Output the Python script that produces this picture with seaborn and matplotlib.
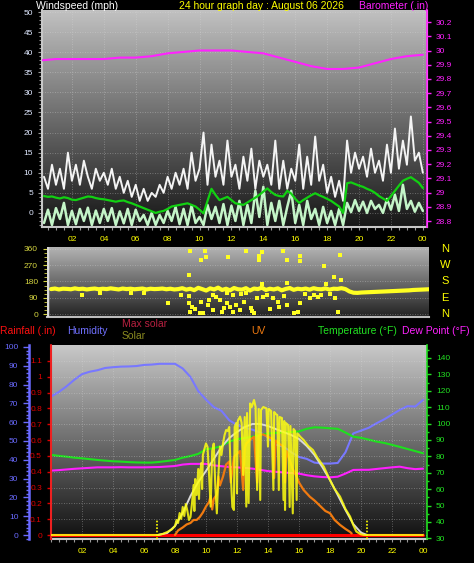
# 24 hour weather graph (windspeed / direction / solar-temp panels)
import numpy as np
import pandas as pd
import matplotlib
matplotlib.use("Agg")
import matplotlib.pyplot as plt
import seaborn as sns
from matplotlib.colors import LinearSegmentedColormap
from matplotlib.ticker import MultipleLocator, FixedLocator, FuncFormatter
from matplotlib.transforms import blended_transform_factory

# ---------------- data ----------------
hour_ticks = list(range(2, 25, 2))
hour_labels = ['02', '04', '06', '08', '10', '12', '14', '16', '18', '20', '22', '00']

# top panel, 15 minute steps 00:15 .. 24:00
gust_mph = [9, 6, 12, 7,  11, 6, 15, 8,  12, 7, 13, 9,  6, 11, 8, 10,
            7, 11, 6, 9,  5, 8, 4, 7,  3, 6, 3, 5,  4, 7, 5, 9,
            6, 10, 7, 11,  6, 15, 8, 11,  20, 7, 17, 9,  13, 7, 18, 9,
            12, 6, 14, 8,  16, 6, 13, 9,  12, 7, 18, 6,  13, 6, 11, 8,
            17, 6, 14, 7,  19, 8, 12, 5,  9, 4, 8, 3,  18, 10, 15, 11,
            14, 9, 16, 10,  13, 8, 17, 10,  21, 11, 18, 12,  24, 13, 15, 10]
avg_mph = [4.2, 4.0, 4.1, 3.8,  3.6, 3.9, 3.7, 3.3,  3.2, 3.5, 3.8, 4.1,  4.0, 3.7, 3.5, 3.4,
           3.2, 3.0, 2.8, 3.0,  3.1, 2.7, 2.4, 2.0,  1.6, 1.2, 0.8, 0.4,  0.0, 0.3, 0.5, 1.0,
           1.6, 1.8, 2.0, 2.2,  2.4, 2.0, 1.6, 0.8,  -0.1, 3.0, 6.0, 4.5,  3.2, 3.6, 4.0, 3.2,
           2.4, 2.2, 2.0, 2.6,  3.2, 3.8, 4.5, 5.3,  6.1, 5.2, 4.5, 4.2,  4.1, 5.5, 4.8, 3.5,
           2.5, 3.2, 3.8, 4.4,  4.9, 4.4, 4.0, 3.5,  3.0, 2.3, 1.6, 0.0,  7.4, 7.6, 7.2, 6.8,
           6.5, 6.0, 5.6, 5.0,  4.2, 3.6, 3.0, 4.2,  5.5, 6.8, 8.0, 8.5,  8.9, 8.2, 7.5, 6.2]
speed_mph = [-2.5, 0.8, -3.0, 1.2,  -1.5, 2.5, -3.0, 0.5,  -2.8, 1.0, -2.0, 1.3,  -3.0, 0.6, -2.5, 1.0,
             -2.0, 1.2, -3.0, 0.4,  -2.6, 1.0, -3.0, 0.8,  -2.0, -0.5, -3.0, 0.0,  -3.0, -0.5, -2.5, 0.5,
             -2.0, 1.5, -2.8, 1.0,  -3.0, 1.8, -2.5, -1.0,  -3.0, 2.0, -1.5, 1.5,  -2.5, 2.2, -3.0, 1.8,
             -2.0, 3.0, -3.0, 2.0,  -2.5, 5.5, -1.0, 6.5,  -3.0, 2.5, -2.0, 3.0,  -3.0, 1.5, 5.5, -2.5,
             2.0, -3.0, 3.0, -1.5,  1.0, -3.0, 1.5, -2.5,  0.5, -3.0, 1.0, -3.0,  2.5, 0.2, 3.2, 0.5,
             2.8, 0.0, 3.0, 1.0,  2.0, 0.0, 3.5, 0.8,  4.5, 0.5, 7.0, 1.0,  3.0, 0.3, 2.5, 0.5]
baro_hours = list(range(25))
baro_in = [29.93, 29.94, 29.94, 29.94, 29.94, 29.95, 29.95, 29.96, 29.98, 29.99,
           30.00, 30.00, 30.00, 29.99, 29.98, 29.95, 29.92, 29.89, 29.87, 29.87,
           29.88, 29.91, 29.94, 29.96, 29.97]

# middle panel, wind direction (15 minute steps) + scattered readings
wdir_deg = [138, 141, 136, 140,  139, 137, 142, 138,  140, 136, 139, 141,  137, 140, 138, 142,
            139, 136, 141, 138,  140, 137, 139, 141,  136, 140, 138, 139,  141, 137, 140, 136,
            138, 143, 135, 140,  132, 145, 138, 130,  142, 136, 146, 133,  140, 131, 144, 137,
            135, 143, 130, 141,  138, 146, 133, 140,  136, 142, 131, 139,  144, 134, 140, 137,
            141, 135, 143, 138,  137, 142, 135, 140,  139, 143, 138, 125,  118, 117, 119, 120,
            121, 122, 123, 124,  125, 126, 127, 128,  129, 130, 131, 133,  134, 135, 136, 137]
wdir_out_h = [9.0, 9.9, 10.0, 9.7, 8.9, 11.4, 12.5, 13.3, 13.5, 13.3, 14.8, 15.1, 15.9, 15.9,
              18.4, 17.4, 18.0, 18.5, 17.5, 15.1, 13.5, 7.6, 8.9, 9.1, 9.0, 9.6, 9.8, 9.7,
              10.2, 10.9, 10.4, 11.0, 11.3, 11.5, 11.7, 12.1, 12.4, 12.8, 13.0, 12.5, 11.7,
              11.3, 10.4, 13.2, 13.8, 14.2, 14.5, 14.6, 15.1, 15.5, 15.8, 15.9, 16.5, 16.8,
              18.3, 18.1, 17.2, 8.4, 8.9, 2.2, 5.3, 3.3, 6.1,
              9.3, 10.6, 11.9, 12.2, 12.9, 13.6, 14.0, 14.9, 16.2, 17.0, 17.8, 10.1, 11.1]
wdir_out_deg = [350, 348, 318, 299, 218, 318, 350, 321, 345, 299, 350, 299, 321, 295,
                329, 268, 207, 188, 166, 173, 164, 63, 59, 41, 12, 7, 3, 68,
                77, 77, 22, 12, 59, 41, 12, 22, 68, 31, 7, 114, 105,
                114, 105, 86, 105, 86, 68, 41, 50, 7, 12, 59, 86, 105,
                12, 86, 105, 105, 99, 105, 114, 118, 118,
                30, 95, 48, 110, 18, 92, 25, 100, 112, 96, 108, 52, 36]

# bottom panel, 30 minute steps 00:00 .. 24:00
humidity_pct = [73.6, 76, 79, 82.5, 85.5, 86.8, 87.6, 88.8, 89.2, 89.5, 89.6, 89.8, 90.4,
                90.6, 91, 91, 91, 88.5, 84, 76.5, 72, 68, 66, 61, 58.5, 57, 56, 54.5, 52,
                48, 47, 44, 41.5, 40.5, 38.5, 38, 38, 38.3, 44, 54, 55.5, 57, 59.4, 61.5,
                64, 66.5, 68.5, 68.3, 71.8]
temp_f = [80.9, 80.3, 79.8, 79.2, 78.8, 78.3, 77.8, 77.4, 77.0, 76.8, 76.5, 76.3, 76.2,
          76.2, 76.6, 77.2, 77.8, 79.2, 80.2, 81.5, 84.3, 85.0, 86.3, 89.0, 90.5, 91.2,
          92.0, 93.0, 94.0, 94.3, 94.6, 94.8, 95.2, 96.8, 97.7, 97.5, 97.1, 96.8, 94.5,
          92.0, 91.3, 90.2, 89.0, 88.2, 87.0, 85.8, 84.5, 83.2, 81.9]
dew_f = [71.3, 71.6, 72.0, 72.4, 72.7, 73.0, 73.3, 73.3, 73.3, 73.4, 73.3, 73.3, 73.3,
         73.4, 73.5, 73.8, 74.1, 75.0, 75.4, 75.4, 75.4, 74.5, 74.0, 73.5, 73.3, 72.9,
         72.5, 71.8, 71.0, 70.6, 70.2, 69.8, 69.5, 68.5, 67.8, 67.4, 67.2, 67.6, 69.5,
         71.7, 71.8, 71.8, 72.3, 72.8, 73.3, 73.7, 72.8, 72.2, 72.5]
maxsolar_h = [6.9, 7.5, 8, 8.5, 9, 9.5, 10, 10.5, 11, 11.5, 12, 12.5, 13, 13.5, 14, 14.5,
              15, 15.5, 16, 16.5, 17, 17.5, 18, 18.5, 19, 19.5, 20, 20.4]
maxsolar_w = [0, 10, 45, 110, 195, 265, 320, 380, 440, 485, 515, 540, 555, 555, 545, 530,
              515, 500, 480, 445, 400, 340, 275, 200, 125, 55, 12, 0]
solar_pts = [(0.0, 0), (6.9, 0), (7.2, 5), (7.5, 15), (7.8, 28), (8.0, 45), (8.1, 75), (8.2, 60),
             (8.3, 110), (8.4, 80), (8.5, 140), (8.6, 95), (8.7, 155), (8.8, 120), (8.9, 75),
             (9.0, 90), (9.1, 160), (9.2, 250), (9.25, 120), (9.3, 280), (9.4, 200), (9.5, 330),
             (9.55, 180), (9.6, 300), (9.7, 360), (9.75, 230), (9.8, 400), (9.9, 430), (10.0, 458),
             (10.1, 440), (10.2, 300), (10.3, 142), (10.4, 420), (10.5, 457), (10.6, 250),
             (10.7, 108), (10.8, 300), (10.9, 442), (11.0, 400), (11.1, 460), (11.2, 500),
             (11.3, 525), (11.4, 520), (11.5, 540), (11.6, 300), (11.7, 140), (11.8, 125),
             (11.85, 540), (11.95, 560), (12.0, 208), (12.05, 570), (12.2, 592), (12.3, 560),
             (12.4, 300), (12.5, 590), (12.6, 142), (12.65, 610), (12.75, 160), (12.85, 658),
             (12.95, 640), (13.1, 675), (13.2, 640), (13.3, 225), (13.4, 630), (13.5, 175),
             (13.55, 625), (13.7, 640), (13.9, 633), (14.0, 442), (14.05, 630), (14.2, 620),
             (14.35, 225), (14.4, 615), (14.5, 605), (14.6, 600), (14.7, 225), (14.75, 590),
             (14.9, 585), (15.0, 175), (15.05, 570), (15.1, 125), (15.15, 560), (15.3, 550),
             (15.4, 140), (15.45, 545), (15.6, 108), (15.65, 530), (15.75, 520), (15.85, 175),
             (15.9, 508), (16.1, 490), (16.3, 475), (16.6, 445), (16.9, 425), (17.2, 385),
             (17.6, 342), (18.0, 275), (18.3, 230), (18.65, 192), (19.0, 130), (19.3, 92),
             (19.5, 50), (19.7, 17), (20.0, 3), (20.2, 0), (24.0, 0)]
uv_pts = [(8.0, 0.0), (8.2, 0.3), (8.5, 0.5), (8.75, 0.7), (9.0, 0.8), (9.2, 1.0), (9.4, 1.0),
          (9.6, 1.2), (9.8, 1.5), (10.0, 1.9), (10.2, 2.2), (10.3, 2.6), (10.4, 1.7), (10.5, 2.4),
          (10.7, 2.7), (10.8, 3.9), (10.9, 3.3), (11.1, 3.9), (11.3, 4.7), (11.5, 4.9), (11.6, 3.5),
          (11.8, 5.2), (12.0, 5.4), (12.2, 5.6), (12.4, 3.0), (12.5, 5.8), (12.6, 6.1), (12.9, 6.4),
          (13.1, 6.55), (13.3, 3.5), (13.4, 6.6), (13.5, 6.7), (13.7, 6.7), (13.9, 6.6), (14.1, 6.5),
          (14.3, 6.4), (14.4, 3.8), (14.5, 6.3), (14.7, 6.1), (15.0, 5.9), (15.1, 3.5), (15.2, 5.6),
          (15.4, 5.0), (15.6, 4.4), (15.85, 3.9), (16.0, 3.5), (16.3, 3.0), (16.7, 2.55),
          (17.0, 2.3), (17.4, 1.9), (17.7, 1.6), (18.0, 1.45), (18.3, 1.0), (18.65, 0.67),
          (19.0, 0.4), (19.3, 0.2), (19.4, 0.1)]
rain_h = [0, 24]
rain_in = [0.0, 0.0]
sun_hours = [6.86, 20.4]   # sunrise / sunset markers

# ---------------- helpers ----------------
W, H = 474, 563


def rect(l, t, r, b):
    '''axes rectangle from pixel edges (origin top left)'''
    return [l / W, 1 - b / H, (r - l) / W, (b - t) / H]


def gradient_bg(ax, top, bottom):
    '''vertical grey gradient behind the data'''
    cmap = LinearSegmentedColormap.from_list('bg', [bottom, top])
    grad = np.linspace(0, 1, 256).reshape(-1, 1)
    ax.imshow(grad, cmap=cmap, aspect='auto', extent=[0, 1, 0, 1],
              transform=ax.transAxes, origin='lower', zorder=0)


def hour_axis(ax, color='#ffff00'):
    ax.xaxis.set_major_locator(FixedLocator(hour_ticks))
    ax.set_xticklabels(hour_labels, color=color, fontsize=6)
    ax.xaxis.set_minor_locator(MultipleLocator(0.5))
    ax.tick_params(axis='x', which='both', colors='#9a9a9a', labelcolor=color,
                   length=2.5, width=0.8, pad=4)


def num_fmt(v, pos):
    return f"{round(v, 2):g}"


sns.set_style("dark")
plt.rcParams['font.family'] = ['Liberation Sans', 'DejaVu Sans']
plt.rcParams['axes.unicode_minus'] = False
plt.rcParams.update({'xtick.bottom': True, 'ytick.left': True})

fig = plt.figure(figsize=(W / 100, H / 100), dpi=100, facecolor='black')

t15 = np.arange(1, 97) * 0.25
t30 = np.arange(0, 49) * 0.5
grid_kw = dict(color='#dcdcdc', linestyle=(0, (1, 2)), linewidth=0.6, alpha=0.45)

# ---------------- top panel: windspeed + barometer ----------------
ax1 = fig.add_axes(rect(42, 10, 427, 227))
gradient_bg(ax1, '#c2c2c2', '#161616')
sns.lineplot(x=t15, y=speed_mph, ax=ax1, color='#c4f5c8', lw=1.8, zorder=3)
sns.lineplot(x=t15, y=gust_mph, ax=ax1, color='#f4f4f4', lw=1.4, zorder=4)
sns.lineplot(x=t15, y=avg_mph, ax=ax1, color='#12d012', lw=1.6, zorder=5)
ax1.set_xlim(0.125, 24.26)
ax1.set_ylim(-3.5, 50.5)
ax1.yaxis.set_major_locator(MultipleLocator(5))
ax1.yaxis.set_minor_locator(MultipleLocator(1))
ax1.tick_params(axis='y', which='both', colors='#9a9a9a', labelcolor='#dfe8ff',
                labelsize=6, length=3, width=0.8)
ax1.tick_params(axis='y', which='minor', length=2)
hour_axis(ax1)
ax1.grid(True, **grid_kw)
ax1.set_xlabel('')
ax1.set_ylabel('')
ax1.spines['top'].set_visible(False)
ax1.spines['left'].set_color('#c8c8c8')
ax1.spines['bottom'].set_color('#c8c8c8')
ax1.spines['left'].set_linewidth(1.5)
ax1.spines['bottom'].set_linewidth(1.5)

ax1b = ax1.twinx()
sns.lineplot(x=baro_hours, y=baro_in, ax=ax1b, color='#ff22ff', lw=1.5)
ax1b.set_ylim(28.758, 30.285)
ax1b.yaxis.set_major_locator(MultipleLocator(0.1))
ax1b.yaxis.set_major_formatter(FuncFormatter(num_fmt))
ax1b.tick_params(axis='y', colors='#ff22ff', labelsize=6, length=3, width=1)
ax1b.set_ylabel('')
ax1b.spines['right'].set_color('#ff22ff')
ax1b.spines['right'].set_linestyle((0, (1, 1)))
ax1b.spines['right'].set_linewidth(1.2)
for side in ['top', 'left', 'bottom']:
    ax1b.spines[side].set_visible(False)

fig.text(36 / W, 1 - 6 / H, 'Windspeed (mph)', color='white', fontsize=7.5, va='center')
fig.text(261 / W, 1 - 6 / H, '24 hour graph day : August 06 2026', color='#ffff00',
         fontsize=7.5, va='center', ha='center')
fig.text(428 / W, 1 - 6 / H, 'Barometer (.in)', color='#ff22ff', fontsize=7.5,
         va='center', ha='right')

# ---------------- middle panel: wind direction ----------------
ax2 = fig.add_axes(rect(47, 247, 429, 317))
gradient_bg(ax2, '#b4b4b4', '#222222')
sns.lineplot(x=t15, y=wdir_deg, ax=ax2, color='#ffff22', lw=3.0, zorder=3)
sns.scatterplot(x=wdir_out_h, y=wdir_out_deg, ax=ax2, color='#ffff22', s=6, marker='s',
                linewidth=0, zorder=4)
ax2.set_xlim(0, 24)
ax2.set_ylim(-16.6, 371)
ax2.yaxis.set_major_locator(FixedLocator([0, 90, 180, 270, 360]))
ax2.yaxis.set_minor_locator(MultipleLocator(22.5))
ax2.tick_params(axis='y', which='both', colors='#d4d440', labelsize=6, length=3, width=0.8)
ax2.tick_params(axis='y', which='minor', length=2, width=0.6)
ax2.set_xticks([])
ax2.grid(True, axis='y', **grid_kw)
ax2.grid(False, axis='x')
ax2.set_xlabel('')
ax2.set_ylabel('')
for side in ['top', 'right', 'left']:
    ax2.spines[side].set_visible(False)
ax2.spines['bottom'].set_color('#bcbcbc')
ax2.spines['bottom'].set_linewidth(1.5)
ax2.axvline(0, color='#d8d8d8', lw=2.5, zorder=5)
trans = blended_transform_factory(fig.transFigure, ax2.transData)
for deg, letter in zip([360, 270, 180, 90, 0], ['N', 'W', 'S', 'E', 'N']):
    fig.text(445 / W, deg, letter, transform=trans, color='#ffff00', fontsize=8,
             ha='center', va='center')

# ---------------- bottom panel ----------------
ax3 = fig.add_axes(rect(51, 345, 427, 539))
gradient_bg(ax3, '#c8c8c8', '#101010')
sns.lineplot(x=t30, y=humidity_pct, ax=ax3, color='#7878ff', lw=1.5, zorder=3)
ax3.set_xlim(0, 24.26)
ax3.set_ylim(-2.1, 101)
ax3.yaxis.set_major_locator(MultipleLocator(10))
ax3.yaxis.set_minor_locator(MultipleLocator(2))
ax3.spines['left'].set_position(('outward', 16))
ax3.spines['left'].set_color('#6a6aff')
ax3.spines['left'].set_linewidth(1.8)
ax3.tick_params(axis='y', which='both', colors='#6a6aff', labelsize=6, length=4, width=1)
ax3.tick_params(axis='y', which='minor', length=2)
hour_axis(ax3)
ax3.grid(True, axis='x', **grid_kw)
ax3.grid(False, axis='y')
ax3.spines['top'].set_visible(False)
ax3.spines['right'].set_visible(False)
ax3.spines['bottom'].set_color('#c8c8c8')
ax3.spines['bottom'].set_linewidth(1.5)
ax3.set_xlabel('')
ax3.set_ylabel('')

# temperature / dew point
ax3t = ax3.twinx()
sns.lineplot(x=t30, y=temp_f, ax=ax3t, color='#1ee01e', lw=1.5)
sns.lineplot(x=t30, y=dew_f, ax=ax3t, color='#ff1eff', lw=1.5)
ax3t.set_ylim(29.6, 147.9)
ax3t.yaxis.set_major_locator(MultipleLocator(10))
ax3t.yaxis.set_minor_locator(MultipleLocator(5))
ax3t.tick_params(axis='y', which='both', colors='#22e022', labelsize=6, length=3, width=1)
ax3t.tick_params(axis='y', which='minor', length=1.5)
ax3t.spines['right'].set_color('#22e022')
ax3t.spines['right'].set_linestyle((0, (1, 1)))
ax3t.spines['right'].set_linewidth(1.2)
for side in ['top', 'left', 'bottom']:
    ax3t.spines[side].set_visible(False)
ax3t.set_ylabel('')

# rainfall (left, inner scale)
ax3r = ax3.twinx()
sns.lineplot(x=rain_h, y=rain_in, ax=ax3r, color='#ff0000', lw=2.2)
ax3r.set_ylim(-0.025, 1.2)
ax3r.yaxis.tick_left()
ax3r.yaxis.set_label_position('left')
ax3r.set_yticks([round(0.1 * i, 1) for i in range(12)])
ax3r.yaxis.set_major_formatter(FuncFormatter(num_fmt))
ax3r.tick_params(axis='y', colors='#dd0000', labelsize=6, length=3, width=1)
ax3r.grid(True, axis='y', **grid_kw)
ax3r.spines['left'].set_visible(True)
ax3r.spines['left'].set_color('#ee2020')
ax3r.spines['left'].set_linestyle((0, (1, 1)))
ax3r.spines['left'].set_linewidth(1.5)
for side in ['top', 'right', 'bottom']:
    ax3r.spines[side].set_visible(False)
ax3r.set_ylabel('')

# UV (hidden scale)
uv_h, uv_idx = zip(*uv_pts)
ax3u = ax3.twinx()
sns.lineplot(x=list(uv_h), y=list(uv_idx), ax=ax3u, color='#f07a10', lw=1.6)
ax3u.set_ylim(-0.27, 12.67)
ax3u.set_yticks([])
ax3u.set_ylabel('')
for side in ax3u.spines:
    ax3u.spines[side].set_visible(False)

# solar radiation + max solar (hidden scale)
solar_h, solar_w = zip(*solar_pts)
ax3s = ax3.twinx()
sns.lineplot(x=maxsolar_h, y=maxsolar_w, ax=ax3s, color='#d8d8d8', lw=1.4)
sns.lineplot(x=list(solar_h), y=list(solar_w), ax=ax3s, color='#ffff10', lw=1.5, alpha=0.85)
ax3s.vlines(sun_hours, -20, 80, colors='#ffff00', linestyles=(0, (1, 1)), lw=1.2)
ax3s.set_ylim(-20, 950)
ax3s.set_yticks([])
ax3s.set_ylabel('')
for side in ax3s.spines:
    ax3s.spines[side].set_visible(False)

# legend labels above the bottom panel
fig.text(0 / W, 1 - 331 / H, 'Rainfall (.in)', color='#ff1010', fontsize=7.5, va='center')
fig.text(67 / W, 1 - 331 / H, 'Humidity', color='#7070ff', fontsize=7.5, va='center')
fig.text(122 / W, 1 - 324 / H, 'Max solar', color='#b82040', fontsize=7.5, va='center')
fig.text(122 / W, 1 - 336 / H, 'Solar', color='#8a8a20', fontsize=7.5, va='center')
fig.text(251 / W, 1 - 331 / H, 'UV', color='#f07a10', fontsize=7.5, va='center')
fig.text(318 / W, 1 - 331 / H, 'Temperature (°F)', color='#22e022', fontsize=7.5, va='center')
fig.text(402 / W, 1 - 331 / H, 'Dew Point (°F)', color='#ff22ff', fontsize=7.5, va='center')

fig.savefig('out.png', dpi=100, facecolor='black')
